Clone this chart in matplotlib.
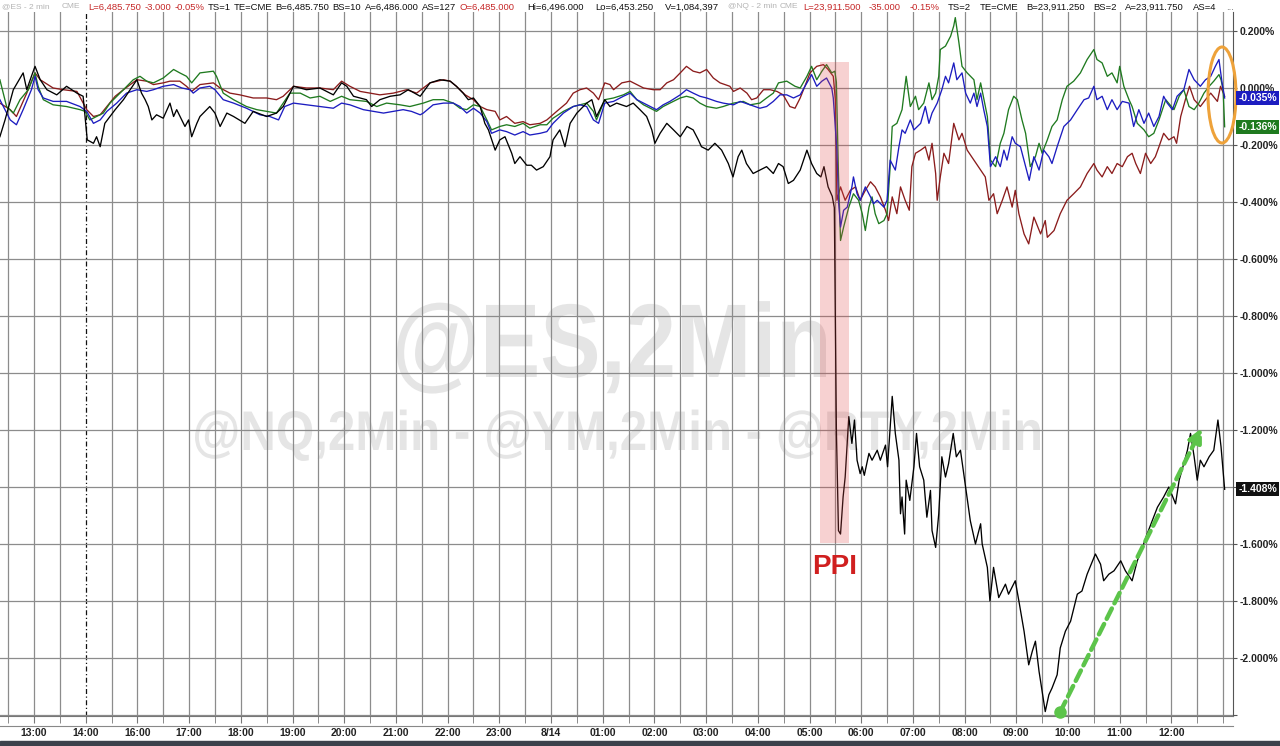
import numpy as np
import matplotlib
matplotlib.use('Agg')
import matplotlib.pyplot as plt
from matplotlib.patches import Ellipse, Rectangle, PathPatch
from matplotlib.textpath import TextPath
from matplotlib.font_manager import FontProperties
from matplotlib.transforms import Affine2D

plt.rcParams['font.family'] = ['Liberation Sans', 'DejaVu Sans']

# x = chart hours counted from the 13:00 bar (the 15:00 hour is not on the axis)
hour_labels = ['13:00', '14:00', '16:00', '17:00', '18:00', '19:00', '20:00', '21:00',
               '22:00', '23:00', '8/14', '01:00', '02:00', '03:00', '04:00', '05:00',
               '06:00', '07:00', '08:00', '09:00', '10:00', '11:00', '12:00']
session_break = 1.0
ppi_window = (15.20, 15.77, -1.596, 0.091)   # t0, t1, v_low, v_high
arrow_start = (19.85, -2.189)
arrow_end = (22.59, -1.193)

# % change, (time, value) pairs
rty = [(-0.66, -0.171), (-0.56, -0.112), (-0.40, -0.006), (-0.21, 0.053), (-0.14, -0.006),
       (-0.05, 0.041), (0.02, 0.076), (0.12, 0.029), (0.25, -0.006), (0.44, -0.024),
       (0.63, 0.006), (0.83, -0.018), (0.95, -0.029), (1.03, -0.182), (1.15, -0.194),
       (1.21, -0.171), (1.28, -0.206), (1.37, -0.124), (1.47, -0.100), (1.57, -0.076),
       (1.73, -0.041), (1.86, -0.006), (1.99, 0.029), (2.08, -0.018), (2.15, -0.041),
       (2.21, -0.065), (2.28, -0.112), (2.37, -0.094), (2.50, -0.106), (2.63, -0.053),
       (2.70, -0.100), (2.76, -0.076), (2.92, -0.135), (2.99, -0.112), (3.05, -0.171),
       (3.15, -0.124), (3.21, -0.100), (3.40, -0.065), (3.50, -0.088), (3.60, -0.135),
       (3.73, -0.088), (3.86, -0.100), (4.08, -0.124), (4.24, -0.082), (4.50, -0.100),
       (4.69, -0.088), (4.82, -0.065), (5.02, 0.006), (5.15, 0.000), (5.27, -0.006),
       (5.53, 0.000), (5.79, -0.024), (5.95, 0.018), (6.05, 0.006), (6.18, -0.029),
       (6.43, -0.041), (6.53, -0.065), (6.69, -0.041), (6.89, -0.029), (7.08, -0.024),
       (7.24, -0.006), (7.47, -0.029), (7.66, 0.018), (7.85, 0.029), (8.05, 0.024),
       (8.17, 0.006), (8.30, -0.018), (8.40, -0.041), (8.50, -0.035), (8.63, -0.065),
       (8.72, -0.124), (8.79, -0.147), (8.92, -0.218), (9.01, -0.182), (9.11, -0.171),
       (9.24, -0.229), (9.30, -0.265), (9.40, -0.241), (9.53, -0.271), (9.62, -0.271),
       (9.72, -0.288), (9.85, -0.276), (9.98, -0.241), (10.04, -0.182), (10.17, -0.147),
       (10.27, -0.206), (10.37, -0.124), (10.50, -0.088), (10.69, -0.053), (10.79, -0.041),
       (10.88, -0.100), (11.04, -0.041), (11.14, -0.065), (11.27, -0.053), (11.46, -0.065),
       (11.59, -0.053), (11.72, -0.076), (11.85, -0.100), (11.95, -0.147), (12.01, -0.194),
       (12.11, -0.159), (12.24, -0.124), (12.37, -0.147), (12.50, -0.171), (12.63, -0.135),
       (12.75, -0.147), (12.85, -0.182), (12.91, -0.206), (13.04, -0.218), (13.17, -0.194),
       (13.30, -0.218), (13.43, -0.265), (13.52, -0.312), (13.62, -0.241), (13.69, -0.218),
       (13.78, -0.265), (13.91, -0.300), (14.04, -0.288), (14.17, -0.276), (14.30, -0.300),
       (14.40, -0.265), (14.49, -0.276), (14.59, -0.335), (14.69, -0.324), (14.82, -0.288),
       (14.95, -0.218), (15.04, -0.265), (15.14, -0.300), (15.22, -0.312), (15.28, -0.276),
       (15.36, -0.347), (15.44, -0.380), (15.48, -0.420), (15.52, -1.200), (15.56, -1.553),
       (15.60, -1.565), (15.65, -1.435), (15.69, -1.365), (15.76, -1.153), (15.82, -1.247),
       (15.87, -1.165), (15.92, -1.306), (15.98, -1.353), (16.02, -1.329), (16.06, -1.359),
       (16.15, -1.282), (16.21, -1.306), (16.31, -1.271), (16.37, -1.306), (16.47, -1.253),
       (16.51, -1.329), (16.60, -1.082), (16.66, -1.212), (16.73, -1.306), (16.76, -1.494),
       (16.79, -1.435), (16.84, -1.565), (16.87, -1.376), (16.94, -1.447), (17.02, -1.329),
       (17.07, -1.212), (17.13, -1.329), (17.21, -1.376), (17.27, -1.506), (17.34, -1.412),
       (17.37, -1.553), (17.44, -1.612), (17.50, -1.494), (17.56, -1.294), (17.63, -1.365),
       (17.69, -1.318), (17.78, -1.212), (17.84, -1.294), (17.92, -1.271), (18.02, -1.400),
       (18.11, -1.518), (18.21, -1.600), (18.31, -1.529), (18.34, -1.600), (18.44, -1.682),
       (18.49, -1.800), (18.56, -1.682), (18.66, -1.788), (18.79, -1.741), (18.85, -1.776),
       (18.98, -1.729), (19.05, -1.800), (19.15, -1.906), (19.24, -2.024), (19.31, -1.976),
       (19.37, -1.941), (19.44, -2.047), (19.53, -2.153), (19.56, -2.188), (19.63, -2.129),
       (19.69, -2.106), (19.79, -2.059), (19.85, -1.965), (19.95, -1.906), (20.05, -1.871),
       (20.18, -1.776), (20.27, -1.765), (20.37, -1.706), (20.53, -1.635), (20.63, -1.671),
       (20.69, -1.729), (20.79, -1.706), (20.89, -1.694), (21.02, -1.659), (21.11, -1.694),
       (21.24, -1.729), (21.34, -1.659), (21.44, -1.612), (21.53, -1.565), (21.73, -1.471),
       (21.85, -1.435), (21.95, -1.400), (22.08, -1.459), (22.15, -1.376), (22.24, -1.318),
       (22.31, -1.271), (22.37, -1.212), (22.44, -1.294), (22.50, -1.376), (22.56, -1.306),
       (22.63, -1.329), (22.73, -1.294), (22.82, -1.271), (22.90, -1.165), (22.96, -1.259),
       (23.03, -1.408)]

es = [(-0.66, -0.041), (-0.46, -0.112), (-0.34, -0.129), (-0.21, -0.076), (-0.05, -0.006),
      (0.02, 0.041), (0.08, -0.006), (0.18, -0.035), (0.37, -0.047), (0.63, -0.047),
      (0.89, -0.065), (1.02, -0.082), (1.15, -0.124), (1.28, -0.112), (1.41, -0.082),
      (1.60, -0.053), (1.79, -0.018), (1.99, -0.006), (2.18, -0.012), (2.31, -0.006),
      (2.50, 0.006), (2.70, 0.012), (2.86, 0.000), (3.02, -0.006), (3.08, -0.018),
      (3.21, 0.000), (3.40, 0.006), (3.50, -0.006), (3.66, -0.041), (3.86, -0.053),
      (4.11, -0.071), (4.37, -0.094), (4.56, -0.100), (4.73, -0.112), (4.85, -0.065),
      (5.02, -0.053), (5.27, -0.059), (5.53, -0.065), (5.79, -0.071), (5.95, -0.053),
      (6.11, -0.059), (6.37, -0.076), (6.56, -0.082), (6.76, -0.088), (6.95, -0.082),
      (7.14, -0.076), (7.30, -0.082), (7.47, -0.094), (7.53, -0.088), (7.72, -0.059),
      (7.92, -0.053), (8.11, -0.053), (8.24, -0.065), (8.37, -0.088), (8.50, -0.071),
      (8.63, -0.088), (8.76, -0.118), (8.85, -0.159), (9.01, -0.147), (9.14, -0.153),
      (9.30, -0.165), (9.46, -0.153), (9.59, -0.165), (9.79, -0.159), (9.92, -0.153),
      (10.04, -0.124), (10.24, -0.088), (10.43, -0.065), (10.56, -0.059), (10.69, -0.065),
      (10.82, -0.112), (10.92, -0.124), (11.04, -0.053), (11.21, -0.047), (11.40, -0.029),
      (11.53, -0.018), (11.66, -0.041), (11.79, -0.053), (11.92, -0.065), (12.04, -0.076),
      (12.17, -0.059), (12.30, -0.047), (12.50, -0.024), (12.62, -0.006), (12.75, -0.018),
      (12.88, -0.029), (13.01, -0.035), (13.20, -0.047), (13.33, -0.053), (13.53, -0.059),
      (13.66, -0.047), (13.85, -0.059), (14.04, -0.071), (14.17, -0.065), (14.30, -0.047),
      (14.43, -0.024), (14.56, -0.024), (14.69, -0.035), (14.82, -0.024), (14.95, 0.018),
      (15.04, 0.047), (15.14, 0.006), (15.24, 0.024), (15.33, 0.035), (15.43, 0.000),
      (15.46, -0.035), (15.53, -0.218), (15.56, -0.394), (15.60, -0.488), (15.66, -0.429),
      (15.73, -0.418), (15.82, -0.347), (15.85, -0.312), (15.92, -0.371), (15.98, -0.394),
      (16.08, -0.347), (16.18, -0.382), (16.24, -0.406), (16.31, -0.394), (16.44, -0.418),
      (16.50, -0.394), (16.56, -0.253), (16.66, -0.288), (16.73, -0.206), (16.79, -0.147),
      (16.85, -0.159), (16.95, -0.112), (17.02, -0.147), (17.15, -0.124), (17.24, -0.065),
      (17.31, -0.124), (17.37, -0.088), (17.47, -0.053), (17.56, -0.006), (17.63, 0.041),
      (17.69, 0.018), (17.79, 0.088), (17.85, 0.029), (17.95, 0.053), (18.02, -0.018),
      (18.11, -0.053), (18.18, -0.018), (18.24, -0.065), (18.31, -0.018), (18.37, -0.076),
      (18.44, -0.135), (18.50, -0.276), (18.60, -0.241), (18.69, -0.276), (18.76, -0.218),
      (18.82, -0.253), (18.92, -0.171), (18.98, -0.194), (19.08, -0.206), (19.18, -0.276),
      (19.25, -0.324), (19.34, -0.241), (19.44, -0.288), (19.53, -0.218), (19.63, -0.241),
      (19.69, -0.265), (19.79, -0.206), (19.92, -0.135), (20.05, -0.112), (20.18, -0.076),
      (20.31, -0.041), (20.40, -0.035), (20.50, 0.006), (20.56, -0.041), (20.66, -0.029),
      (20.76, -0.076), (20.85, -0.041), (20.95, -0.076), (21.05, -0.047), (21.18, -0.053),
      (21.27, -0.135), (21.37, -0.076), (21.47, -0.124), (21.56, -0.088), (21.66, -0.135),
      (21.76, -0.100), (21.85, -0.029), (21.92, -0.053), (22.02, -0.076), (22.11, -0.029),
      (22.24, -0.006), (22.34, 0.065), (22.44, 0.029), (22.56, 0.006), (22.66, 0.029),
      (22.76, 0.041), (22.85, 0.076), (22.92, 0.100), (22.98, 0.018), (23.03, -0.035)]

nq = [(-0.66, 0.029), (-0.53, -0.065), (-0.40, -0.088), (-0.27, -0.041), (-0.11, -0.006),
      (0.02, 0.053), (0.08, 0.006), (0.18, -0.041), (0.37, -0.059), (0.63, -0.065),
      (0.89, -0.076), (0.99, -0.082), (1.08, -0.112), (1.21, -0.100), (1.34, -0.088),
      (1.47, -0.053), (1.73, -0.006), (1.92, 0.029), (2.05, 0.041), (2.18, 0.024),
      (2.31, 0.018), (2.50, 0.035), (2.70, 0.065), (2.82, 0.053), (2.95, 0.041),
      (3.05, 0.018), (3.21, 0.053), (3.47, 0.059), (3.53, 0.041), (3.66, -0.018),
      (3.86, -0.041), (4.11, -0.065), (4.31, -0.076), (4.50, -0.082), (4.69, -0.088),
      (4.82, -0.053), (4.95, -0.018), (5.15, -0.018), (5.34, -0.035), (5.53, -0.029),
      (5.73, -0.047), (5.95, -0.029), (6.11, -0.041), (6.43, -0.047), (6.63, -0.065),
      (6.82, -0.053), (7.08, -0.059), (7.27, -0.065), (7.53, -0.053), (7.72, -0.041),
      (7.92, -0.041), (8.11, -0.053), (8.24, -0.071), (8.37, -0.076), (8.50, -0.059),
      (8.63, -0.065), (8.76, -0.112), (8.85, -0.147), (9.01, -0.135), (9.14, -0.129),
      (9.30, -0.135), (9.46, -0.124), (9.59, -0.141), (9.79, -0.129), (9.92, -0.129),
      (10.04, -0.106), (10.24, -0.082), (10.43, -0.065), (10.56, -0.059), (10.69, -0.053),
      (10.82, -0.082), (10.88, -0.112), (11.04, -0.041), (11.21, -0.035), (11.40, -0.024),
      (11.53, -0.012), (11.66, -0.041), (11.79, -0.059), (11.92, -0.071), (12.04, -0.082),
      (12.17, -0.065), (12.30, -0.053), (12.50, -0.035), (12.62, -0.029), (12.75, -0.035),
      (12.88, -0.053), (13.01, -0.065), (13.20, -0.071), (13.33, -0.065), (13.53, -0.053),
      (13.72, -0.047), (13.85, -0.059), (14.04, -0.053), (14.17, -0.035), (14.30, -0.018),
      (14.40, 0.018), (14.56, 0.024), (14.72, 0.006), (14.82, 0.000), (14.95, 0.041),
      (15.04, 0.076), (15.14, 0.029), (15.24, 0.059), (15.33, 0.082), (15.43, 0.053),
      (15.49, 0.059), (15.52, 0.020), (15.56, -0.300), (15.60, -0.535), (15.66, -0.488),
      (15.76, -0.418), (15.85, -0.371), (15.95, -0.394), (16.02, -0.441), (16.08, -0.500),
      (16.15, -0.418), (16.21, -0.382), (16.27, -0.441), (16.34, -0.476), (16.44, -0.465),
      (16.50, -0.441), (16.56, -0.276), (16.60, -0.135), (16.69, -0.124), (16.79, -0.076),
      (16.87, 0.041), (16.95, -0.065), (17.05, -0.029), (17.11, -0.076), (17.21, -0.053),
      (17.31, 0.018), (17.37, -0.041), (17.44, -0.018), (17.50, 0.041), (17.53, 0.135),
      (17.63, 0.147), (17.73, 0.182), (17.79, 0.218), (17.82, 0.247), (17.89, 0.159),
      (17.95, 0.076), (18.05, 0.053), (18.18, 0.029), (18.24, -0.041), (18.31, 0.018),
      (18.44, -0.100), (18.50, -0.253), (18.60, -0.276), (18.69, -0.194), (18.76, -0.159),
      (18.85, -0.076), (18.95, -0.029), (19.02, -0.041), (19.11, -0.112), (19.18, -0.159),
      (19.27, -0.276), (19.37, -0.241), (19.44, -0.194), (19.50, -0.229), (19.60, -0.182),
      (19.69, -0.135), (19.79, -0.112), (19.89, -0.041), (19.98, 0.006), (20.11, 0.024),
      (20.24, 0.053), (20.37, 0.100), (20.50, 0.135), (20.56, 0.100), (20.66, 0.088),
      (20.76, 0.041), (20.85, 0.053), (20.95, 0.018), (21.00, 0.076), (21.08, 0.006),
      (21.18, -0.041), (21.24, -0.065), (21.34, -0.124), (21.47, -0.147), (21.56, -0.171),
      (21.66, -0.159), (21.76, -0.112), (21.89, -0.041), (22.05, -0.076), (22.15, -0.029),
      (22.24, -0.006), (22.34, -0.065), (22.44, -0.076), (22.53, -0.053), (22.63, -0.018),
      (22.73, 0.006), (22.82, 0.024), (22.92, 0.047), (22.96, 0.029), (23.00, -0.006),
      (23.03, -0.136)]

ym = [(-0.66, -0.053), (-0.46, -0.076), (-0.34, -0.100), (-0.14, -0.018), (0.02, 0.053),
      (0.12, 0.029), (0.37, 0.000), (0.57, -0.006), (0.83, -0.012), (1.02, -0.076),
      (1.15, -0.100), (1.28, -0.094), (1.41, -0.065), (1.57, -0.029), (1.73, -0.006),
      (1.99, 0.029), (2.18, 0.024), (2.31, 0.012), (2.50, 0.018), (2.63, 0.024),
      (2.82, 0.024), (2.95, 0.006), (3.05, -0.012), (3.21, 0.012), (3.47, 0.018),
      (3.60, 0.000), (3.79, -0.018), (3.98, -0.024), (4.24, -0.035), (4.50, -0.035),
      (4.69, -0.041), (4.82, -0.029), (5.02, 0.006), (5.27, 0.000), (5.53, 0.000),
      (5.79, -0.006), (5.95, 0.024), (6.11, 0.006), (6.31, -0.012), (6.50, -0.018),
      (6.69, -0.024), (6.95, -0.018), (7.21, -0.006), (7.40, -0.018), (7.66, 0.018),
      (7.92, 0.029), (8.05, 0.024), (8.17, 0.006), (8.34, -0.024), (8.50, -0.041),
      (8.63, -0.065), (8.76, -0.076), (8.92, -0.082), (9.01, -0.112), (9.14, -0.100),
      (9.30, -0.124), (9.46, -0.118), (9.59, -0.129), (9.79, -0.124), (9.92, -0.112),
      (10.11, -0.082), (10.30, -0.053), (10.43, -0.018), (10.56, -0.006), (10.69, 0.000),
      (10.82, -0.018), (10.92, -0.041), (11.04, 0.018), (11.14, 0.012), (11.21, -0.006),
      (11.37, 0.018), (11.53, 0.024), (11.66, 0.012), (11.79, 0.000), (11.98, -0.006),
      (12.11, -0.006), (12.24, 0.018), (12.37, 0.029), (12.50, 0.053), (12.62, 0.076),
      (12.75, 0.059), (12.88, 0.053), (13.01, 0.065), (13.14, 0.035), (13.27, 0.018),
      (13.46, 0.006), (13.53, -0.012), (13.66, 0.000), (13.79, -0.018), (13.88, -0.041),
      (13.98, -0.035), (14.11, -0.006), (14.24, -0.006), (14.37, -0.012), (14.49, -0.024),
      (14.62, -0.065), (14.72, -0.071), (14.82, -0.035), (14.91, 0.006), (15.01, 0.053),
      (15.14, 0.076), (15.27, 0.082), (15.36, 0.065), (15.46, 0.041), (15.50, -0.041),
      (15.53, -0.394), (15.60, -0.347), (15.69, -0.394), (15.79, -0.359), (15.89, -0.347),
      (15.98, -0.394), (16.08, -0.359), (16.18, -0.329), (16.27, -0.347), (16.37, -0.382),
      (16.47, -0.429), (16.53, -0.465), (16.60, -0.382), (16.69, -0.441), (16.76, -0.347),
      (16.85, -0.394), (16.93, -0.429), (16.98, -0.276), (17.05, -0.229), (17.15, -0.218),
      (17.24, -0.206), (17.31, -0.253), (17.37, -0.194), (17.44, -0.300), (17.47, -0.394),
      (17.53, -0.312), (17.60, -0.229), (17.69, -0.265), (17.79, -0.124), (17.89, -0.182),
      (17.95, -0.159), (18.05, -0.218), (18.18, -0.253), (18.31, -0.288), (18.40, -0.312),
      (18.47, -0.394), (18.56, -0.371), (18.63, -0.441), (18.73, -0.394), (18.82, -0.347),
      (18.92, -0.418), (18.98, -0.359), (19.05, -0.441), (19.15, -0.512), (19.24, -0.547),
      (19.34, -0.453), (19.47, -0.512), (19.56, -0.465), (19.60, -0.524), (19.73, -0.500),
      (19.85, -0.441), (19.98, -0.394), (20.11, -0.371), (20.24, -0.347), (20.37, -0.300),
      (20.50, -0.265), (20.56, -0.288), (20.66, -0.312), (20.76, -0.276), (20.85, -0.300),
      (20.95, -0.265), (21.05, -0.276), (21.15, -0.241), (21.24, -0.229), (21.31, -0.265),
      (21.40, -0.300), (21.50, -0.229), (21.60, -0.265), (21.69, -0.241), (21.76, -0.206),
      (21.85, -0.159), (21.95, -0.182), (22.05, -0.171), (22.10, -0.194), (22.18, -0.100),
      (22.27, -0.041), (22.35, 0.006), (22.44, -0.041), (22.56, -0.065), (22.66, -0.041),
      (22.76, -0.018), (22.89, -0.047), (22.95, 0.006), (23.03, -0.029)]

GRAY, RED, INK = '#b4b4b4', '#c62828', '#111111'
# header groups: (left px, right px, font size, items)
header = [
    (2, 80, 6.0, [('@ES - 2 min', GRAY), ('CME', GRAY)]),
    (88, 456, 6.8, [('L=6,485.750', RED), ('-3.000', RED), ('-0.05%', RED), ('TS=1', INK),
                    ('TE=CME', INK), ('B=6,485.750', INK), ('BS=10', INK),
                    ('A=6,486.000', INK), ('AS=127', INK)]),
    (460, 719, 6.8, [('O=6,485.000', RED), ('Hi=6,496.000', INK), ('Lo=6,453.250', INK),
                     ('V=1,084,397', INK)]),
    (728, 798, 6.0, [('@NQ - 2 min', GRAY), ('CME', GRAY)]),
    (803, 1216, 6.8, [('L=23,911.500', RED), ('-35.000', RED), ('-0.15%', RED),
                      ('TS=2', INK), ('TE=CME', INK), ('B=23,911.250', INK), ('BS=2', INK),
                      ('A=23,911.750', INK), ('AS=4', INK)]),
    (1226, None, 6.8, [('...', '#888888')]),
]
watermarks = [('@ES,2Min', 397, 826, 377, 75), ('@NQ,2Min - @YM,2Min - @RTY,2Min', 195, 1040, 450, 40)]

W, H = 1280, 746
ax_left, ax_right, ax_top, ax_bottom = 0, 1233, 12, 716
px_per_hour = 51.7
x13 = 34            # pixel of the 13:00 bar
v_per_px = 0.2 / 57
y_zero = 88         # pixel of the 0.000% line

fig = plt.figure(figsize=(W / 100, H / 100), dpi=100, facecolor='white')
ax = fig.add_axes([ax_left / W, 1 - ax_bottom / H, (ax_right - ax_left) / W,
                   (ax_bottom - ax_top) / H])
ax.set_xlim((ax_left - x13) / px_per_hour, (ax_right - x13) / px_per_hour)
ax.set_ylim(-(ax_bottom - y_zero) * v_per_px, (y_zero - ax_top) * v_per_px)

# grid
half_hours = np.arange(-0.5, 23.01, 0.5)
for h in half_hours:
    if abs(h - session_break) < 1e-6:
        ax.axvline(h, color='#111111', lw=0.9, ls=(0, (4, 2, 1, 2)), zorder=1)
    else:
        ax.axvline(h, color='#8c8c8c', lw=0.9, zorder=1)
levels = np.round(np.arange(-2.2, 0.21, 0.2), 1)
for lv in levels:
    ax.axhline(lv, color='#8c8c8c', lw=0.9, zorder=1)

# watermark, squeezed bold glyph outlines behind the grid
wm_font = FontProperties(family='Liberation Sans', weight='bold')
for txt, x0, x1, base, cap in watermarks:
    size = cap / 0.716
    path = TextPath((0, 0), txt, size=size, prop=wm_font)
    ext = path.get_extents()
    sx = (x1 - x0) / ext.width
    tr = Affine2D().translate(-ext.x0, 0).scale(sx, 1).translate(x0, H - base)
    ax.add_patch(PathPatch(path, transform=tr, facecolor='#e5e5e5', edgecolor='none',
                           zorder=0, clip_on=False))

series = [(ym, '#8b1c1c'), (nq, '#1f7a1f'), (es, '#1c1cc0'), (rty, '#000000')]
for pts, col in series:
    t, v = zip(*pts)
    ax.plot(t, v, color=col, lw=0.95, zorder=3)

# PPI band
t0, t1, lo, hi = ppi_window
ax.add_patch(Rectangle((t0, lo), t1 - t0, hi - lo, facecolor='#e04848', alpha=0.25,
                       edgecolor='none', zorder=4))
ax.text((t0 + t1) / 2, lo - 0.085, 'PPI', ha='center', va='center', fontsize=20,
        fontweight='bold', color='#d01f1f', zorder=5)

# orange oval round the last bars
ax.add_patch(Ellipse(((1222 - x13) / px_per_hour, (y_zero - 95) * v_per_px),
                     28 / px_per_hour, 96 * v_per_px, fill=False,
                     edgecolor='#eea23a', lw=2.2, zorder=5, clip_on=False))

# green dashed arrow
ax.annotate('', xy=arrow_end, xytext=arrow_start,
            arrowprops=dict(arrowstyle='-|>', color='#5cc44a', lw=3.2, ls=(0, (2.6, 1.3)),
                            mutation_scale=20, shrinkA=0, shrinkB=0), zorder=6)
ax.plot(*arrow_start, 'o', color='#5cc44a', ms=8, zorder=6, clip_on=False)

# axes styling
for s in ['left', 'top']:
    ax.spines[s].set_visible(False)
ax.spines['right'].set_color('#555555')
ax.spines['bottom'].set_color('#777777')
ax.yaxis.tick_right()
ax.set_yticks(levels)
ax.set_yticklabels(['' if lv < -2.05 else f'{lv:.3f}%' for lv in levels])
ax.tick_params(axis='y', length=3, pad=2, colors='#555555', labelcolor='#222222',
               labelsize=7.5)
for lab in ax.get_yticklabels():
    lab.set_fontweight('bold')
ax.set_xticks(np.arange(len(hour_labels)))
ax.set_xticklabels(hour_labels)
ax.set_xticks(half_hours, minor=True)
ax.tick_params(axis='x', which='both', length=5, pad=4, colors='#777777',
               labelcolor='#222222', labelsize=7.5)
for lab in ax.get_xticklabels():
    lab.set_fontweight('bold')

# last-value tags
for pts, col in [(es, '#1c1cc0'), (nq, '#1f7a1f'), (rty, '#111111')]:
    last = pts[-1][1]
    ax.annotate(f'{last:.3f}%', xy=(1, last), xycoords=('axes fraction', 'data'),
                xytext=(4, 0), textcoords='offset points', ha='left', va='center',
                fontsize=7.5, fontweight='bold', color='white', zorder=7,
                bbox=dict(boxstyle='square,pad=0.2', fc=col, ec='none'))

# header line, spread evenly inside each group span
renderer = fig.canvas.get_renderer()
for x0, x1, fs, items in header:
    texts = [fig.text(0, 1 - 7 / H, txt, ha='left', va='center', fontsize=fs, color=col)
             for txt, col in items]
    widths = [t.get_window_extent(renderer).width for t in texts]
    gap = 0 if x1 is None or len(texts) < 2 else (x1 - x0 - sum(widths)) / (len(texts) - 1)
    x = x0
    for t, w in zip(texts, widths):
        t.set_x(x / W)
        x += w + gap

# bottom strip
fig.add_artist(plt.Line2D([0, ax_right / W], [1 - 726 / H] * 2, color='#888888', lw=0.8))
fig.add_artist(Rectangle((0, 0), 1, 5 / H, transform=fig.transFigure, color='#3c424c'))

fig.savefig('out.png', dpi=100, facecolor='white')
